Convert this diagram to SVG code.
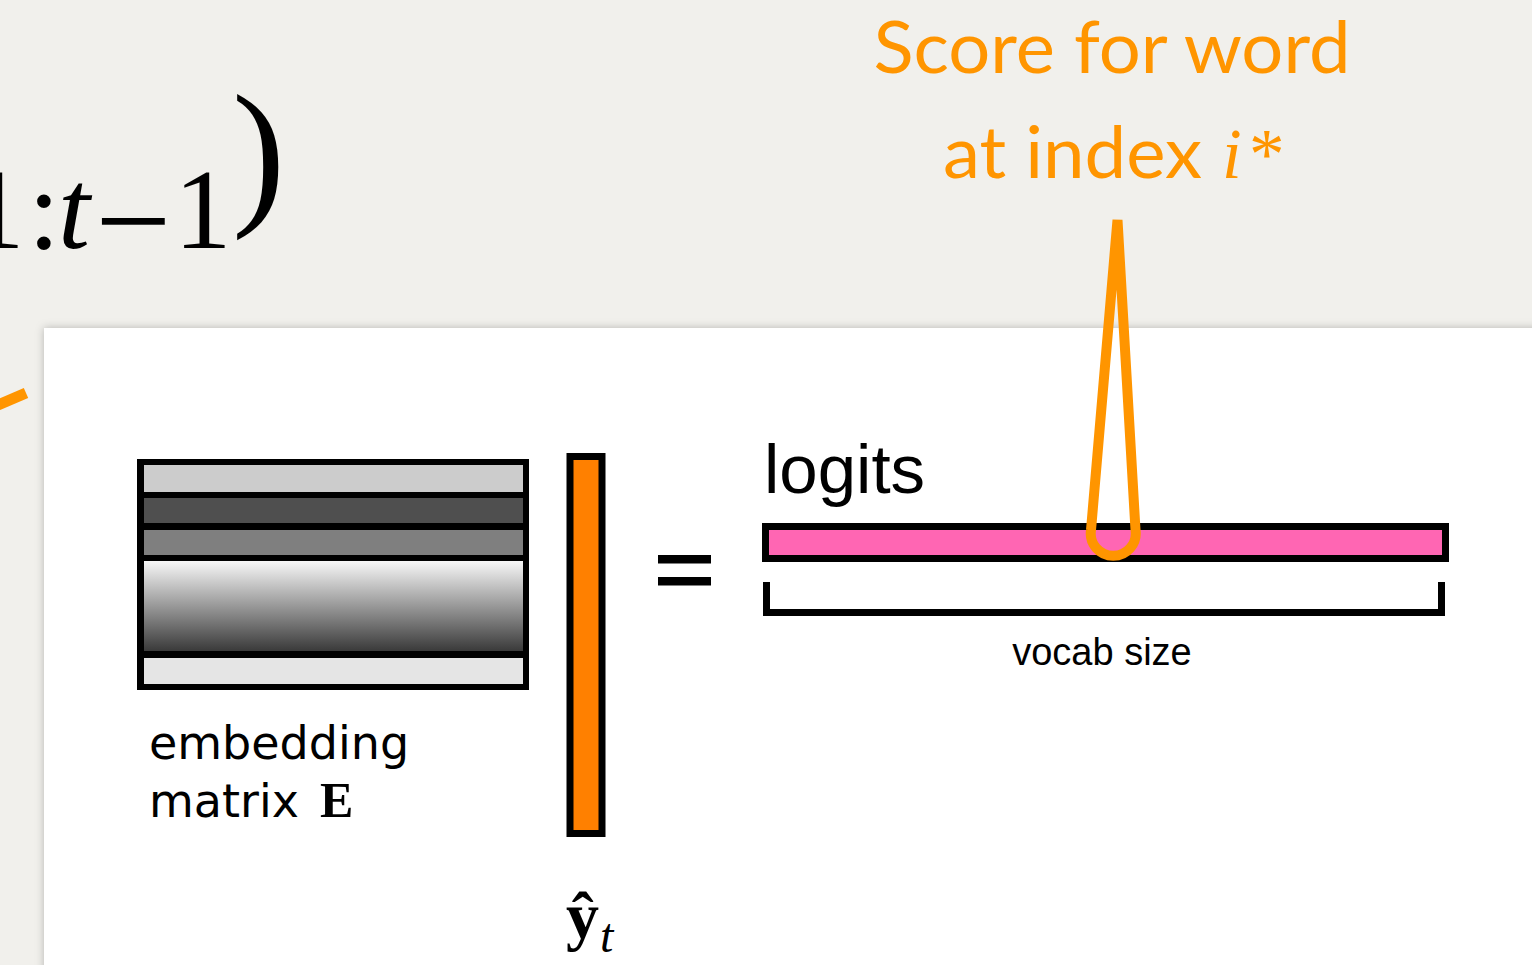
<svg xmlns="http://www.w3.org/2000/svg" width="1532" height="965" viewBox="0 0 1532 965">
  <defs>
    <linearGradient id="rowGrad" x1="0" y1="0" x2="0" y2="1">
      <stop offset="0" stop-color="#f7f7f7"/>
      <stop offset="1" stop-color="#3a3a3a"/>
    </linearGradient>
    <filter id="shadow" x="-5%" y="-5%" width="110%" height="110%">
      <feDropShadow dx="0" dy="0" stdDeviation="4" flood-color="#000" flood-opacity="0.25"/>
    </filter>
    <clipPath id="pageClip">
      <rect x="0" y="0" width="1532" height="965"/>
    </clipPath>
    <style>
      .math { font-family: "Liberation Serif", "Times New Roman", serif; fill: #000; }
      .orangeText { font-family: Lato, "Open Sans", sans-serif; fill: #ff9500; }
      .blk { fill: #000; }
      .label { font-family: "Liberation Sans", Arial, sans-serif; fill: #000; }
      .dv { font-family: "DejaVu Sans", Verdana, sans-serif; fill: #000; }
    </style>
  </defs>

  <!-- background -->
  <rect x="0" y="0" width="1532" height="965" fill="#f1f0ec"/>
  <rect x="44" y="328" width="1500" height="650" fill="#ffffff" filter="url(#shadow)"/>

  <!-- partial formula at top-left -->
  <g id="formula" class="math" clip-path="url(#pageClip)">
    <text x="-33" y="248" font-size="115">1</text>
    <text x="28" y="248" font-size="115">:</text>
    <text x="58" y="248" font-size="115" font-style="italic">t</text>
    <text x="95" y="266" font-size="135">−</text>
    <text x="174" y="248" font-size="115">1</text>
    <text x="232" y="206" font-size="160">)</text>
  </g>

  <!-- orange stub at left -->
  <line x1="-2" y1="405" x2="26" y2="393" stroke="#ff9500" stroke-width="11"/>

  <!-- annotation text -->
  <g id="annotation" class="orangeText">
    <text x="1112" y="73" font-size="71" text-anchor="middle" textLength="477" lengthAdjust="spacingAndGlyphs">Score for word</text>
    <text y="178" font-size="71"><tspan x="943" textLength="259" lengthAdjust="spacingAndGlyphs">at index</tspan><tspan x="1222" font-family="Liberation Serif, Times New Roman, serif" font-style="italic">i</tspan><tspan x="1249" font-family="Liberation Serif, Times New Roman, serif">*</tspan></text>
  </g>

  <!-- embedding matrix -->
  <g id="embedding-matrix">
    <rect x="137" y="459" width="392" height="231" class="blk"/>
    <rect x="144" y="465" width="379" height="27" fill="#cccccc"/>
    <rect x="144" y="498" width="379" height="25" fill="#4f4f4f"/>
    <rect x="144" y="530" width="379" height="25" fill="#7f7f7f"/>
    <rect x="144" y="561" width="379" height="90" fill="url(#rowGrad)"/>
    <rect x="144" y="658" width="379" height="26" fill="#e5e5e5"/>
    <text class="dv" x="149" y="759" font-size="46">embedding</text>
    <text class="dv" x="149" y="817" font-size="46">matrix <tspan x="320" font-family="Liberation Serif, Times New Roman, serif" font-weight="bold" font-size="50">E</tspan></text>
  </g>

  <!-- output vector y_hat -->
  <g id="yhat">
    <rect x="570" y="456.5" width="32" height="377" fill="#ff8000" stroke="#000" stroke-width="7"/>
    <text class="math" x="566" y="938" font-size="66" font-weight="bold">ŷ</text>
    <text class="math" x="600" y="952" font-size="48" font-style="italic">t</text>
  </g>

  <!-- equals -->
  <g id="equals" class="blk">
    <rect x="658" y="555" width="53" height="8.5"/>
    <rect x="658" y="577" width="53" height="8.5"/>
  </g>

  <!-- logits -->
  <g id="logits">
    <text class="label" x="764" y="493" font-size="69">logits</text>
    <rect x="765.5" y="526.5" width="680" height="32" fill="#ff66b3" stroke="#000" stroke-width="7"/>
    <path d="M766.5,582 V612.5 H1441.5 V582" fill="none" stroke="#000" stroke-width="7"/>
    <text class="label" x="1102" y="665" font-size="38" text-anchor="middle">vocab size</text>
  </g>

  <!-- connector: pointer loop -->
  <g id="connectors">
    <path d="M1117.5,220 L1091,530 A22.5,22.5 0 1 0 1135.5,530 Z" fill="none" stroke="#ff9500" stroke-width="10" stroke-linejoin="bevel"/>
  </g>
</svg>
